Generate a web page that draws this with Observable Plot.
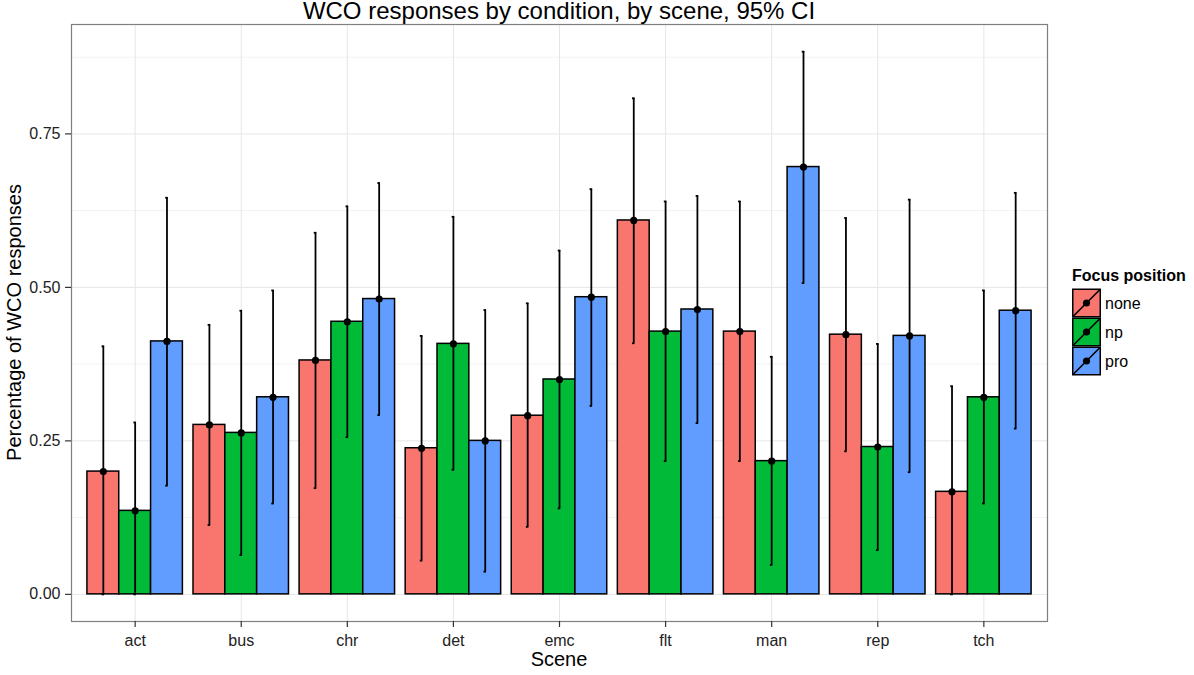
<!DOCTYPE html>
<html>
<head>
<meta charset="utf-8">
<script src="https://cdn.jsdelivr.net/npm/d3@7"></script>
<script src="https://cdn.jsdelivr.net/npm/@observablehq/plot@0.6"></script>
<style>
  html, body { margin: 0; padding: 0; background: #fff; }
  #wrap { position: relative; width: 1194px; height: 675px; overflow: hidden; font-family: "Liberation Sans", Arial, sans-serif; }
  #chart { position: absolute; left: 0; top: 0; }
  #overlay { position: absolute; left: 0; top: 0; pointer-events: none; }
</style>
</head>
<body>
<div id="wrap">
  <div id="chart"></div>
  <svg id="overlay" width="1194" height="675"></svg>
</div>
<script>
// ---- data ----
const scenes = ["act", "bus", "chr", "det", "emc", "flt", "man", "rep", "tch"];
const conditions = ["none", "np", "pro"];
const colors = ["#F8766D", "#00BA38", "#619CFF"];

const meanNone = [0.200, 0.276, 0.381, 0.238, 0.291, 0.609, 0.428, 0.423, 0.167];
const meanNp   = [0.136, 0.263, 0.444, 0.408, 0.350, 0.428, 0.217, 0.240, 0.321];
const meanPro  = [0.412, 0.321, 0.481, 0.250, 0.484, 0.464, 0.696, 0.421, 0.462];

const lowNone  = [0.000, 0.113, 0.173, 0.055, 0.110, 0.409, 0.217, 0.233, 0.000];
const lowNp    = [0.000, 0.064, 0.256, 0.203, 0.140, 0.217, 0.048, 0.072, 0.148];
const lowPro   = [0.177, 0.148, 0.292, 0.037, 0.307, 0.279, 0.507, 0.199, 0.270];

const highNone = [0.404, 0.439, 0.589, 0.421, 0.474, 0.808, 0.640, 0.613, 0.339];
const highNp   = [0.280, 0.462, 0.632, 0.615, 0.560, 0.640, 0.387, 0.408, 0.495];
const highPro  = [0.646, 0.495, 0.670, 0.463, 0.660, 0.649, 0.884, 0.643, 0.654];

const yTicks = [0, 0.25, 0.5, 0.75];
const yMinor = [0.125, 0.375, 0.625, 0.875];

const titleText = "WCO responses by condition, by scene, 95% CI";
const xTitle = "Scene";
const yTitle = "Percentage of WCO responses";
const legendTitle = "Focus position";

// ---- build table ----
const means = [meanNone, meanNp, meanPro];
const lows = [lowNone, lowNp, lowPro];
const highs = [highNone, highNp, highPro];
const dodge = 0.9, bw = dodge / conditions.length;
const rows = [];
scenes.forEach((s, i) => {
  conditions.forEach((c, k) => {
    rows.push({
      scene: s, cond: c,
      x: i + (k - (conditions.length - 1) / 2) * bw,
      mean: means[k][i], lo: lows[k][i], hi: highs[k][i]
    });
  });
});

const yMax = d3.max(rows, d => d.hi), yMinV = 0;
const ySpan = yMax - yMinV;
const yDomain = [yMinV - 0.05 * ySpan, yMax + 0.05 * ySpan];
const xDomain = [-0.6, scenes.length - 1 + 0.6];
const capW = 0.012;

const plot = Plot.plot({
  width: 1060,
  height: 675,
  marginTop: 24,
  marginBottom: 54,
  marginLeft: 71,
  marginRight: 13,
  style: { fontFamily: "Liberation Sans, Arial, sans-serif", fontSize: "16px", background: "white", color: "#333" },
  x: { type: "linear", domain: xDomain, axis: null },
  y: { domain: yDomain, axis: null },
  color: { domain: conditions, range: colors },
  marks: [
    Plot.ruleY(yMinor, { stroke: "#f2f2f2", strokeWidth: 1 }),
    Plot.ruleY(yTicks, { stroke: "#e6e6e6", strokeWidth: 1 }),
    Plot.ruleX(d3.range(scenes.length), { stroke: "#e6e6e6", strokeWidth: 1 }),
    Plot.rect(rows, {
      x1: d => d.x - bw / 2, x2: d => d.x + bw / 2,
      y1: 0, y2: "mean", fill: "cond",
      stroke: "black", strokeWidth: 1.5
    }),
    Plot.ruleX(rows, { x: "x", y1: "lo", y2: "hi", stroke: "black", strokeWidth: 1.8 }),
    Plot.ruleY(rows, { y: "hi", x1: d => d.x - capW, x2: d => d.x + capW, stroke: "black", strokeWidth: 1.8 }),
    Plot.ruleY(rows, { y: "lo", x1: d => d.x - capW, x2: d => d.x + capW, stroke: "black", strokeWidth: 1.8 }),
    Plot.dot(rows, { x: "x", y: "mean", r: 3.6, fill: "black", stroke: "none" }),
    Plot.frame({ stroke: "#7f7f7f", strokeWidth: 1.2 }),
    Plot.axisY({
      ticks: yTicks, tickFormat: d3.format(".2f"), tickSize: 6, tickPadding: 5,
      label: null, fontSize: 16, stroke: "#333", fill: "#222", strokeWidth: 1.2
    }),
    Plot.axisX({
      ticks: d3.range(scenes.length), tickFormat: i => scenes[i], tickSize: 6, tickPadding: 7,
      label: null, fontSize: 16, stroke: "#333", fill: "#222", strokeWidth: 1.2
    })
  ]
});
document.getElementById("chart").appendChild(plot);

// ---- overlay: titles and legend ----
const svg = d3.select("#overlay");
const font = "Liberation Sans, Arial, sans-serif";
const panelCx = 71 + (1060 - 13 - 71) / 2;
const panelCy = 24 + (675 - 54 - 24) / 2;

svg.append("text").attr("x", panelCx).attr("y", 19).attr("text-anchor", "middle")
  .attr("font-family", font).attr("font-size", 24).attr("fill", "#000").text(titleText);
svg.append("text").attr("x", panelCx).attr("y", 666).attr("text-anchor", "middle")
  .attr("font-family", font).attr("font-size", 20).attr("fill", "#000").text(xTitle);
svg.append("text").attr("transform", `translate(21,${panelCy}) rotate(-90)`).attr("text-anchor", "middle")
  .attr("font-family", font).attr("font-size", 20).attr("fill", "#000").text(yTitle);

const lg = svg.append("g").attr("transform", "translate(1072,0)");
lg.append("text").attr("x", 0).attr("y", 281).attr("font-family", font).attr("font-size", 16)
  .attr("font-weight", "bold").attr("fill", "#000").text(legendTitle);
const keyS = 29, keyTop = 288.5;
conditions.forEach((c, k) => {
  const y0 = keyTop + k * keyS;
  const g = lg.append("g").attr("transform", `translate(0,${y0})`);
  g.append("rect").attr("x", 0.75).attr("y", 0.75).attr("width", keyS - 1.5).attr("height", keyS - 1.5)
    .attr("fill", colors[k]).attr("stroke", "#000").attr("stroke-width", 1.5);
  g.append("line").attr("x1", 0.75).attr("y1", keyS - 0.75).attr("x2", keyS - 0.75).attr("y2", 0.75)
    .attr("stroke", "#000").attr("stroke-width", 1.6);
  g.append("circle").attr("cx", keyS / 2).attr("cy", keyS / 2).attr("r", 3.6).attr("fill", "#000");
  g.append("text").attr("x", keyS + 4).attr("y", keyS / 2).attr("dy", "0.35em")
    .attr("font-family", font).attr("font-size", 16).attr("fill", "#000").text(c);
});
</script>
</body>
</html>
